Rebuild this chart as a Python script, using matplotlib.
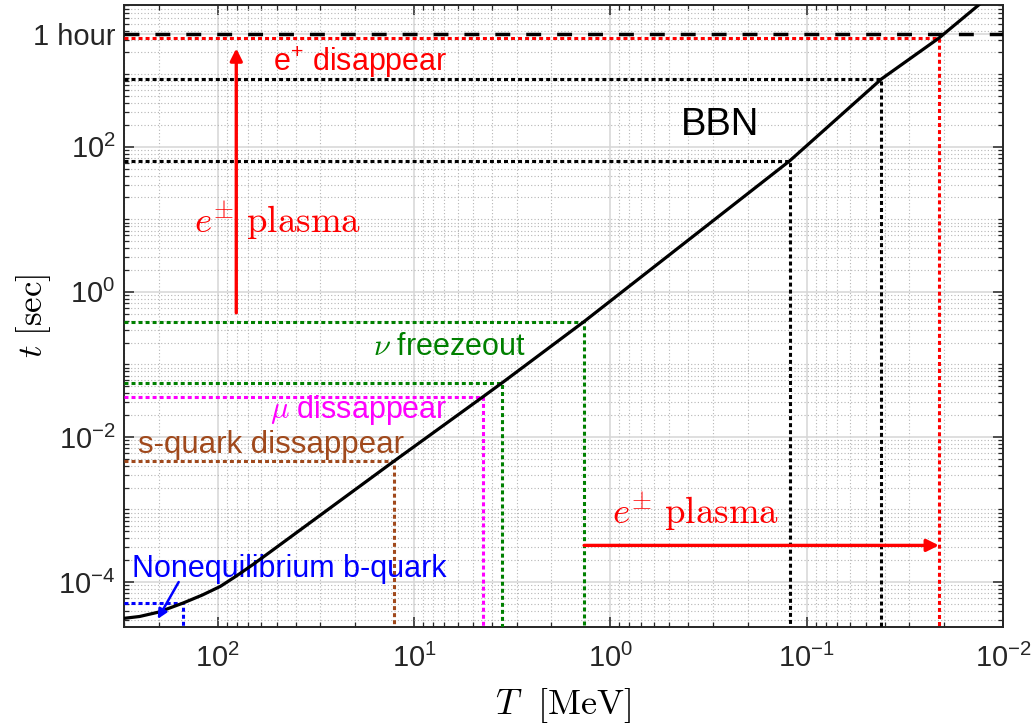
import numpy as np
import matplotlib
matplotlib.use("Agg")
import matplotlib.pyplot as plt
from matplotlib.ticker import FixedLocator, FixedFormatter, LogLocator, NullFormatter

plt.rcParams["font.family"] = ["Liberation Sans", "DejaVu Sans"]
plt.rcParams["mathtext.fontset"] = "custom"
plt.rcParams["mathtext.rm"] = "Liberation Sans"
plt.rcParams["mathtext.it"] = "Liberation Sans:italic"
plt.rcParams["mathtext.bf"] = "Liberation Sans:bold"

# time-temperature relation
T_curve = [303, 250, 200, 151, 120, 97, 80, 66, 54, 12.7, 4.44, 3.55, 1.36, 0.122, 0.0416, 0.0212, 0.0133]
t_curve = [3.15e-5, 3.35e-5, 3.85e-5, 5.1e-5, 6.6e-5, 8.7e-5, 1.22e-4, 1.75e-4, 2.6e-4,
           4.6e-3, 0.036, 0.056, 0.39, 64, 860, 3150, 9000]

# marked epochs (T [MeV], t [s])
T_bquark, t_bquark = 151, 5.1e-5
T_squark, t_squark = 12.7, 4.6e-3
T_mu, t_mu = 4.44, 0.036
T_nu = [3.55, 1.36]
t_nu = [0.056, 0.39]
T_bbn = [0.122, 0.0416]
t_bbn = [64, 860]
T_epos, t_epos = 0.0212, 3150
t_hour = 3600

xlim = (300, 0.01)
ylim = (2.4e-5, 9.0e3)

xtick_vals = [1e2, 1e1, 1e0, 1e-1, 1e-2]
xtick_labels = [r"$\mathdefault{10^{2}}$", r"$\mathdefault{10^{1}}$", r"$\mathdefault{10^{0}}$",
                r"$\mathdefault{10^{-1}}$", r"$\mathdefault{10^{-2}}$"]
ytick_vals = [1e-4, 1e-2, 1e0, 1e2, 3600]
ytick_labels = [r"$\mathdefault{10^{-4}}$", r"$\mathdefault{10^{-2}}$", r"$\mathdefault{10^{0}}$",
                r"$\mathdefault{10^{2}}$", "1 hour"]

RED = "#ff0000"
GREEN = "#008000"
MAGENTA = "#ff00ff"
BROWN = "#a0491c"
BLUE = "#0000ff"
DOT = (0, (1.3, 1.0))


def corner(ax, T, t, color):
    # dotted L from the left axis to the curve and down to the bottom axis
    ax.plot([xlim[0], T, T], [t, t, ylim[0]], color=color, lw=2.2, ls=DOT, zorder=3)


fig = plt.figure(figsize=(10.34, 7.26), dpi=100)
ax = fig.add_axes([124 / 1034, 1 - 627 / 726, 879 / 1034, 622 / 726])
ax.set_xscale("log")
ax.set_yscale("log")
ax.set_xlim(*xlim)
ax.set_ylim(*ylim)

ax.axhline(t_hour, color="k", lw=2.5, ls=(0, (4.3, 4.6)), zorder=3)
corner(ax, T_epos, t_epos, RED)
for T, t in zip(T_bbn, t_bbn):
    corner(ax, T, t, "k")
for T, t in zip(T_nu, t_nu):
    corner(ax, T, t, GREEN)
corner(ax, T_mu, t_mu, MAGENTA)
corner(ax, T_squark, t_squark, BROWN)
corner(ax, T_bquark, t_bquark, BLUE)

ax.plot(T_curve, t_curve, color="k", lw=2.3, zorder=5, solid_joinstyle="round")

# arrows
arr = dict(arrowstyle="-|>", color=RED, lw=2.4, mutation_scale=18, shrinkA=0, shrinkB=0)
ax.annotate("", xy=(80.4, 2270), xytext=(80.4, 0.514), arrowprops=arr, zorder=4)
ax.annotate("", xy=(T_epos, 3.2e-4), xytext=(T_nu[1], 3.2e-4), arrowprops=arr, zorder=4)
ax.annotate("", xy=(202, 3.1e-5), xytext=(158, 1.0e-4),
            arrowprops=dict(arrowstyle="-|>", color=BLUE, lw=1.8, mutation_scale=14,
                            shrinkA=0, shrinkB=0), zorder=6)

# labels
ax.text(52, 1100, r"e$^{+}$ disappear", color=RED, fontsize=22, ha="left", va="baseline")
ax.text(0.275, 145, "BBN", color="k", fontsize=27.5, ha="center", va="baseline")
ax.text(132, 6.5, r"$e^{\pm}\ \mathrm{plasma}$", color=RED, fontsize=26.5, ha="left",
        va="baseline", math_fontfamily="cm")
ax.text(0.977, 6.4e-4, r"$e^{\pm}\ \mathrm{plasma}$", color=RED, fontsize=26.5, ha="left",
        va="baseline", math_fontfamily="cm")
ax.text(16.1, 0.136, r"$\nu$ freezeout", color=GREEN, fontsize=22, ha="left",
        va="baseline", math_fontfamily="cm")
ax.text(54, 0.0185, r"$\mu$ dissappear", color=MAGENTA, fontsize=22, ha="left",
        va="baseline", math_fontfamily="cm")
ax.text(254, 0.0061, "s-quark dissappear", color=BROWN, fontsize=22.5, ha="left", va="baseline")
ax.text(272, 1.16e-4, "Nonequilibrium b-quark", color=BLUE, fontsize=22, ha="left", va="baseline")

ax.text(0.5, -0.127, r"$T\ \ [\mathrm{MeV}]$", transform=ax.transAxes, fontsize=26,
        ha="center", va="center", math_fontfamily="cm")
ax.text(-0.1035, 0.5, r"$t\ [\mathrm{sec}]$", transform=ax.transAxes, fontsize=25,
        ha="center", va="center", rotation=90, math_fontfamily="cm")

# ticks and grid, MATLAB style
ax.xaxis.set_major_locator(FixedLocator(xtick_vals))
ax.xaxis.set_major_formatter(FixedFormatter(xtick_labels))
ax.xaxis.set_minor_locator(LogLocator(base=10, subs=np.arange(2, 10), numticks=50))
ax.xaxis.set_minor_formatter(NullFormatter())
ax.yaxis.set_major_locator(FixedLocator(ytick_vals))
ax.yaxis.set_major_formatter(FixedFormatter(ytick_labels))
ax.yaxis.set_minor_locator(LogLocator(base=10, subs=np.arange(1, 10), numticks=50))
ax.yaxis.set_minor_formatter(NullFormatter())

ax.tick_params(which="both", direction="in", top=True, right=True, colors="#262626")
ax.tick_params(which="major", length=7, width=1.1, labelsize=21)
ax.tick_params(which="minor", length=3.5, width=0.9)
ax.tick_params(axis="x", which="major", pad=12)
ax.tick_params(axis="y", which="major", pad=6)
for s in ax.spines.values():
    s.set_linewidth(1.4)
    s.set_color("#262626")

ax.set_axisbelow(True)
ax.grid(True, which="major", color="#d6d6d6", lw=1.1, ls="-")
ax.grid(True, which="minor", color="#b5b5b5", lw=0.8, ls=(0, (1, 2)))

fig.savefig("out.png", dpi=100)
